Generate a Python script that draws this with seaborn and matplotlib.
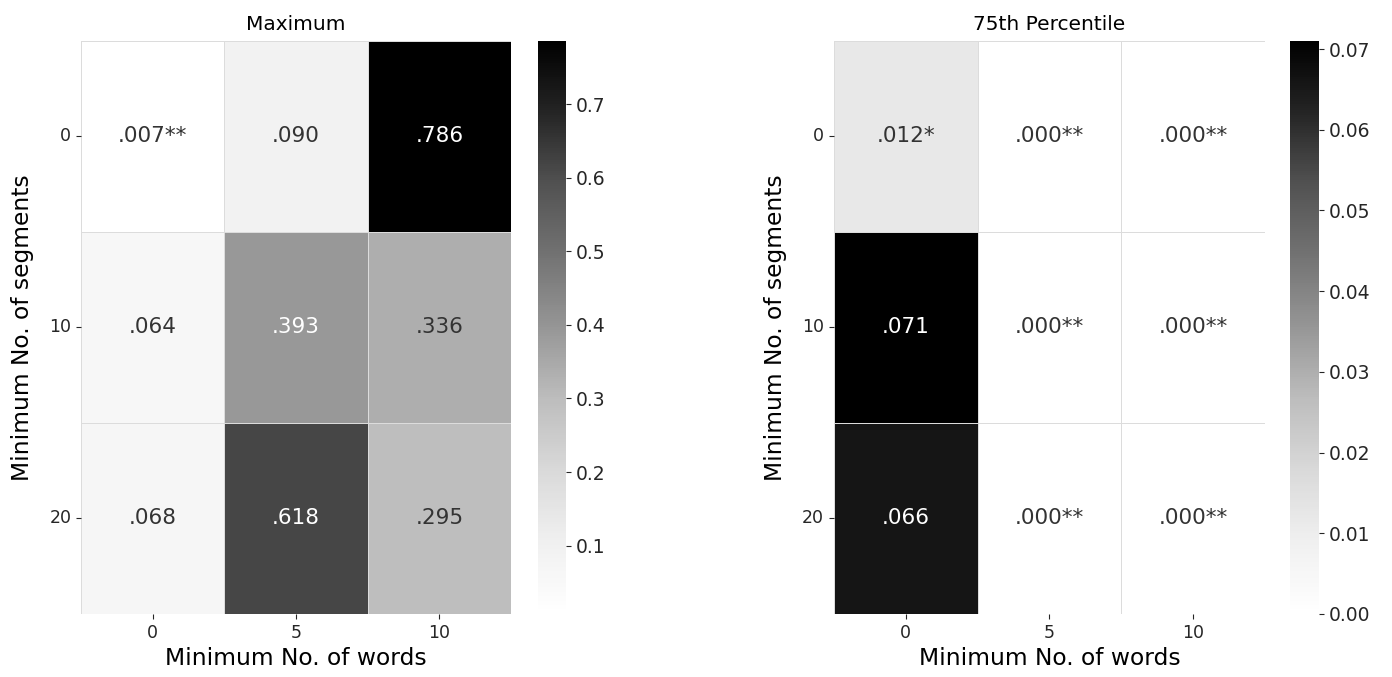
import numpy as np
import matplotlib
matplotlib.use("Agg")
import matplotlib.pyplot as plt
import seaborn as sns

# Minimalne wartości parametrów
min_words = [0, 5, 10]
min_segments = [0, 10, 20]

# Wartości p dla maksimum
max_values = [
    [0.007, 0.090, 0.786],
    [0.064, 0.393, 0.336],
    [0.068, 0.618, 0.295],
]
max_labels = [
    [".007**", ".090", ".786"],
    [".064", ".393", ".336"],
    [".068", ".618", ".295"],
]

# Wartości p dla 75. percentyla
p75_values = [
    [0.012, 0.000, 0.000],
    [0.071, 0.000, 0.000],
    [0.066, 0.000, 0.000],
]
p75_labels = [
    [".012*", ".000**", ".000**"],
    [".071", ".000**", ".000**"],
    [".066", ".000**", ".000**"],
]

fig = plt.figure(figsize=(13.92, 6.77), dpi=100)
ax1 = fig.add_axes([0.0582, 0.0931, 0.3089, 0.8464])
cax1 = fig.add_axes([0.3865, 0.0931, 0.0201, 0.8464])
ax2 = fig.add_axes([0.5991, 0.0931, 0.3096, 0.8464])
cax2 = fig.add_axes([0.9267, 0.0931, 0.0208, 0.8464])

panels = [
    (ax1, cax1, max_values, max_labels, "Maximum"),
    (ax2, cax2, p75_values, p75_labels, "75th Percentile"),
]

for ax, cax, vals, labels, title in panels:
    sns.heatmap(np.array(vals), annot=np.array(labels), fmt="", cmap="Greys",
                linewidths=0.6, linecolor="#dcdcdc", ax=ax, cbar_ax=cax,
                xticklabels=min_words, yticklabels=min_segments,
                annot_kws={"size": 15.5})
    # ciemny tekst trochę jaśniejszy, jak na oryginale
    for t in ax.texts:
        if t.get_color() != "w":
            t.set_color("#333333")
    ax.set_title(title, fontsize=14.5, pad=8)
    ax.set_xlabel("Minimum No. of words", fontsize=16.8)
    ax.set_ylabel("Minimum No. of segments", fontsize=16.8, labelpad=11)
    ax.tick_params(labelsize=12.5, colors="#262626")
    ax.set_yticklabels(min_segments, rotation=0)
    cax.tick_params(labelsize=13.5, colors="#262626")

fig.savefig("out.png", dpi=100)
